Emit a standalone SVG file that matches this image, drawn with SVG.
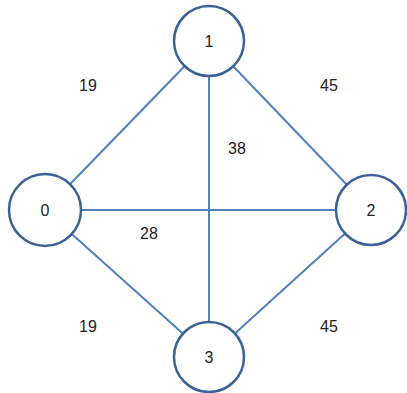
<svg xmlns="http://www.w3.org/2000/svg" width="407" height="393" viewBox="0 0 407 393">
<style>
.e{stroke:#4f81bd;stroke-width:2;fill:none}
.n{fill:#fff;stroke:#3a6296;stroke-width:2.5}
.t{font-family:"Liberation Sans",Arial,sans-serif;font-size:16px;fill:#222;text-anchor:middle}
</style>
<rect width="407" height="393" fill="#fff"/>
<g id="edges">
<line class="e" x1="45" y1="210" x2="209" y2="41"/>
<line class="e" x1="209" y1="41" x2="371" y2="210"/>
<line class="e" x1="45" y1="210" x2="371" y2="210"/>
<line class="e" x1="209" y1="41" x2="209" y2="357"/>
<line class="e" x1="45" y1="210" x2="209" y2="357"/>
<line class="e" x1="371" y1="210" x2="209" y2="357"/>
</g>
<g id="labels">
<text class="t" x="88" y="91">19</text>
<text class="t" x="329" y="91">45</text>
<text class="t" x="237" y="154">38</text>
<text class="t" x="149" y="239">28</text>
<text class="t" x="88" y="332">19</text>
<text class="t" x="329" y="332">45</text>
</g>
<g id="node0"><circle class="n" cx="45" cy="210" r="36"/><text class="t" x="45" y="216">0</text></g>
<g id="node1"><circle class="n" cx="209" cy="41" r="35"/><text class="t" x="209" y="47">1</text></g>
<g id="node2"><circle class="n" cx="371" cy="210" r="35"/><text class="t" x="371" y="216">2</text></g>
<g id="node3"><circle class="n" cx="209" cy="357" r="35"/><text class="t" x="209" y="363">3</text></g>
</svg>
